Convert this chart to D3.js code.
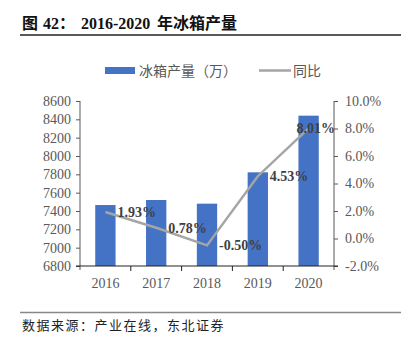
<!DOCTYPE html>
<html><head><meta charset="utf-8">
<script src="https://cdn.jsdelivr.net/npm/d3@7"></script>
<style>body{margin:0;background:#fff}svg{display:block}</style>
</head><body>
<script>
const years = ["2016","2017","2018","2019","2020"];
const production = [7465, 7520, 7480, 7822, 8440];
const yoy = [1.93, 0.78, -0.50, 4.53, 8.01];
const leftTicks = [6800,7000,7200,7400,7600,7800,8000,8200,8400,8600];
const rightTicks = [-2,0,2,4,6,8,10];
const titleParts = ["图", "42：", "2016-2020", "年冰箱产量"];
const source = "数据来源：产业在线，东北证券";
const legendBar = "冰箱产量（万）";
const legendLine = "同比";

const W = 401, H = 342;
const serif = "'Liberation Serif','Times New Roman','Noto Sans CJK SC',serif";
const cjk = "'Liberation Serif','Noto Sans CJK SC',serif";
const svg = d3.select("body").append("svg").attr("width", W).attr("height", H);

const m = {l: 80, r: 334, t: 101, b: 266};
const x = d3.scaleBand().domain(years).range([m.l, m.r]).paddingInner(0.6).paddingOuter(0.3);
const xc = d3.scaleBand().domain(years).range([m.l, m.r]);
const yL = d3.scaleLinear().domain([6800, 8600]).range([m.b, m.t]);
const yR = d3.scaleLinear().domain([-2, 10]).range([m.b, m.t]);

// title
const titleX = [22, 43, 81, 157];
const tt = svg.append("text").attr("y", 29).attr("font-family", cjk).attr("font-weight", "bold")
  .attr("font-size", 16).attr("fill", "#111");
titleParts.forEach((p, i) => tt.append("tspan").attr("x", titleX[i]).text(p));
svg.append("line").attr("x1", 20).attr("x2", 401).attr("y1", 35).attr("y2", 35).attr("stroke", "#222").attr("stroke-width", 1.5);

// legend
const lf = "'Noto Sans CJK SC',sans-serif";
svg.append("rect").attr("x", 105).attr("y", 67).attr("width", 30).attr("height", 7).attr("fill", "#4472C4");
svg.append("text").attr("x", 139).attr("y", 76).attr("font-family", lf).attr("font-size", 14).attr("fill", "#595959").text(legendBar);
svg.append("line").attr("x1", 259).attr("x2", 291).attr("y1", 70.5).attr("y2", 70.5).attr("stroke", "#A5A5A5").attr("stroke-width", 2.5);
svg.append("text").attr("x", 293).attr("y", 76).attr("font-family", lf).attr("font-size", 14).attr("fill", "#595959").text(legendLine);

// bars
svg.selectAll("rect.bar").data(years).enter().append("rect").attr("class", "bar")
  .attr("x", d => x(d)).attr("width", x.bandwidth())
  .attr("y", (d, i) => yL(production[i])).attr("height", (d, i) => m.b - yL(production[i]))
  .attr("fill", "#4472C4");

// axes
const axL = svg.append("g").attr("transform", `translate(${m.l},0)`)
  .call(d3.axisLeft(yL).tickValues(leftTicks).tickSize(4).tickPadding(5).tickFormat(d3.format("d")));
const axR = svg.append("g").attr("transform", `translate(${m.r},0)`)
  .call(d3.axisRight(yR).tickValues(rightTicks).tickSize(4).tickPadding(7).tickFormat(d => d.toFixed(1) + "%"));
[axL, axR].forEach(a => {
  a.select(".domain").remove();
  a.selectAll("text").attr("font-family", serif).attr("font-size", 14).attr("fill", "#595959");
  a.selectAll(".tick line").attr("stroke", "#595959");
});
svg.append("line").attr("x1", m.l).attr("x2", m.l).attr("y1", m.t).attr("y2", m.b + 4).attr("stroke", "#595959");
svg.append("line").attr("x1", m.r).attr("x2", m.r).attr("y1", m.t).attr("y2", m.b + 4).attr("stroke", "#595959");

// x axis
svg.append("line").attr("x1", m.l - 4).attr("x2", m.r + 4).attr("y1", m.b).attr("y2", m.b).attr("stroke", "#222");
const bounds = years.slice(1).map(d => xc(d));
svg.selectAll("line.xt").data(bounds).enter().append("line").attr("class", "xt")
  .attr("x1", d => d).attr("x2", d => d).attr("y1", m.b).attr("y2", m.b + 5).attr("stroke", "#222");
svg.selectAll("text.xl").data(years).enter().append("text").attr("class", "xl")
  .attr("x", d => xc(d) + xc.bandwidth() / 2).attr("y", 288).attr("text-anchor", "middle")
  .attr("font-family", serif).attr("font-size", 14).attr("fill", "#595959").text(d => d);

// line
const cx = d => xc(d) + xc.bandwidth() / 2;
const line = d3.line().x((d, i) => cx(years[i])).y(d => yR(d));
svg.append("path").datum(yoy).attr("d", line).attr("fill", "none").attr("stroke", "#A5A5A5").attr("stroke-width", 2.5);

// labels
svg.selectAll("text.dl").data(yoy).enter().append("text").attr("class", "dl")
  .attr("x", (d, i) => cx(years[i]) + (i === yoy.length - 1 ? -12 : 12))
  .attr("y", d => yR(d)).attr("dy", "0.35em")
  .attr("font-family", serif).attr("font-weight", "bold").attr("font-size", 14).attr("fill", "#404040")
  .text(d => d.toFixed(2) + "%");

// footer
svg.append("line").attr("x1", 20).attr("x2", 401).attr("y1", 312.5).attr("y2", 312.5).attr("stroke", "#888").attr("stroke-width", 1.5);
svg.append("text").attr("x", 22).attr("y", 330).attr("font-family", cjk).attr("font-size", 13)
  .attr("letter-spacing", 1.5).attr("fill", "#222").text(source);
</script>
</body></html>
